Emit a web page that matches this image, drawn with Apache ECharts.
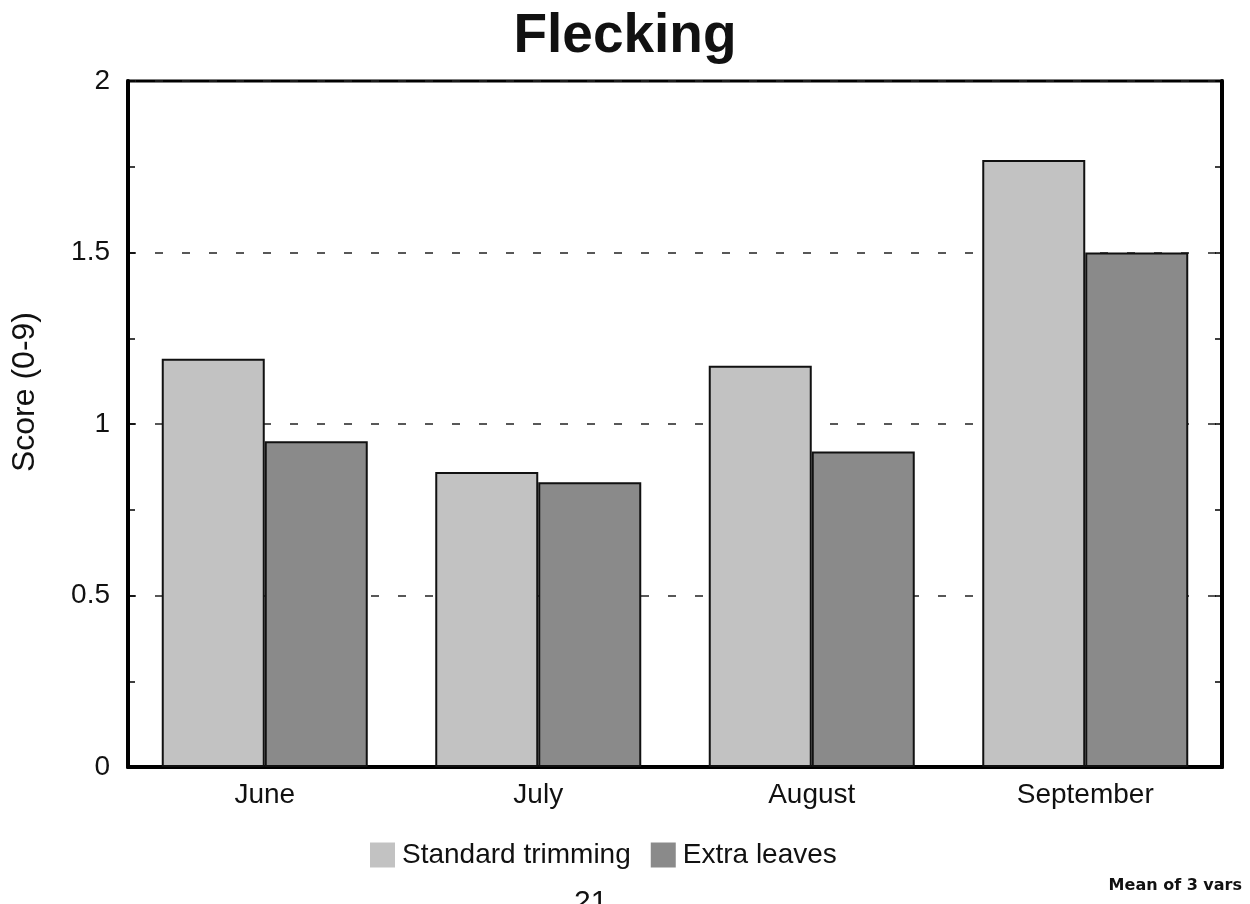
<!DOCTYPE html>
<html>
<head>
<meta charset="utf-8">
<script src="https://cdn.jsdelivr.net/npm/echarts@6/dist/echarts.min.js"></script>
<style>
  html, body {margin: 0; padding: 0; background: #fff;}
  #chart {width: 1250px; height: 904px;}
</style>
</head>
<body>
<div id="chart"></div>
<script>
// values
const months = ['June', 'July', 'August', 'September'];
const standardTrimming = [1.19, 0.86, 1.17, 1.77];
const extraLeaves = [0.95, 0.83, 0.92, 1.50];
const yTicks = [0, 0.5, 1, 1.5, 2];

const font = 'Liberation Sans, Arial, sans-serif';
const chart = echarts.init(document.getElementById('chart'));

const yCommon = {
  type: 'value',
  min: yTicks[0],
  max: yTicks[yTicks.length - 1],
  interval: 0.5,
  axisLine: {show: true, lineStyle: {color: '#000', width: 4}},
  axisTick: {show: true, inside: true, length: 7, lineStyle: {color: '#000', width: 1.5}},
  minorTick: {show: true, splitNumber: 2, length: 7, lineStyle: {color: '#000', width: 1.5}},
};

chart.setOption({
  animation: false,
  backgroundColor: '#fff',
  title: {
    text: 'Flecking',
    left: 'center',
    top: 4,
    textStyle: {fontFamily: font, fontSize: 55, fontWeight: 'bold', color: '#111'}
  },
  grid: {left: 128, right: 28, top: 81, bottom: 137, show: true, borderColor: '#000', borderWidth: 3},
  legend: {
    top: 836,
    left: 365,
    icon: 'rect',
    itemWidth: 25,
    itemHeight: 25,
    itemGap: 20,
    itemStyle: {borderWidth: 0},
    textStyle: {fontFamily: font, fontSize: 28, color: '#111', padding: [0, 0, 0, 2]},
    data: ['Standard trimming', 'Extra leaves']
  },
  xAxis: {
    type: 'category',
    data: months,
    axisLine: {lineStyle: {color: '#000', width: 4}},
    axisTick: {show: false},
    axisLabel: {fontFamily: font, fontSize: 28, color: '#111', margin: 14}
  },
  yAxis: [
    Object.assign({}, yCommon, {
      position: 'left',
      axisLabel: {
        fontFamily: font, fontSize: 28, color: '#111', margin: 18,
        formatter: v => String(v)
      },
      splitLine: {show: true, lineStyle: {color: '#222', width: 1.5, type: [8, 19]}}
    }),
    Object.assign({}, yCommon, {
      position: 'right',
      axisLabel: {show: false},
      splitLine: {show: false}
    })
  ],
  series: [
    {
      name: 'Standard trimming',
      type: 'bar',
      data: standardTrimming,
      barWidth: 103,
      barGap: '0%',
      itemStyle: {color: '#c2c2c2', borderColor: '#111', borderWidth: 2}
    },
    {
      name: 'Extra leaves',
      type: 'bar',
      data: extraLeaves,
      barWidth: 103,
      barGap: '0%',
      itemStyle: {color: '#8a8a8a', borderColor: '#111', borderWidth: 2}
    }
  ],
  graphic: [
    {
      // y axis title, sits a little above the middle of the plot
      type: 'text',
      x: 25,
      y: 392,
      rotation: Math.PI / 2,
      style: {
        text: 'Score (0-9)', fontFamily: font, fontSize: 32, fill: '#111',
        align: 'center', verticalAlign: 'middle'
      }
    },
    {
      type: 'text',
      right: 8,
      top: 878,
      style: {text: 'Mean of 3 vars', fontFamily: 'DejaVu Sans, sans-serif', fontSize: 16, fontWeight: 'bold', fill: '#111'}
    },
    {
      type: 'text',
      left: 574,
      top: 888,
      style: {text: '21', fontFamily: font, fontSize: 30, fill: '#111'}
    }
  ]
});
</script>
</body>
</html>
